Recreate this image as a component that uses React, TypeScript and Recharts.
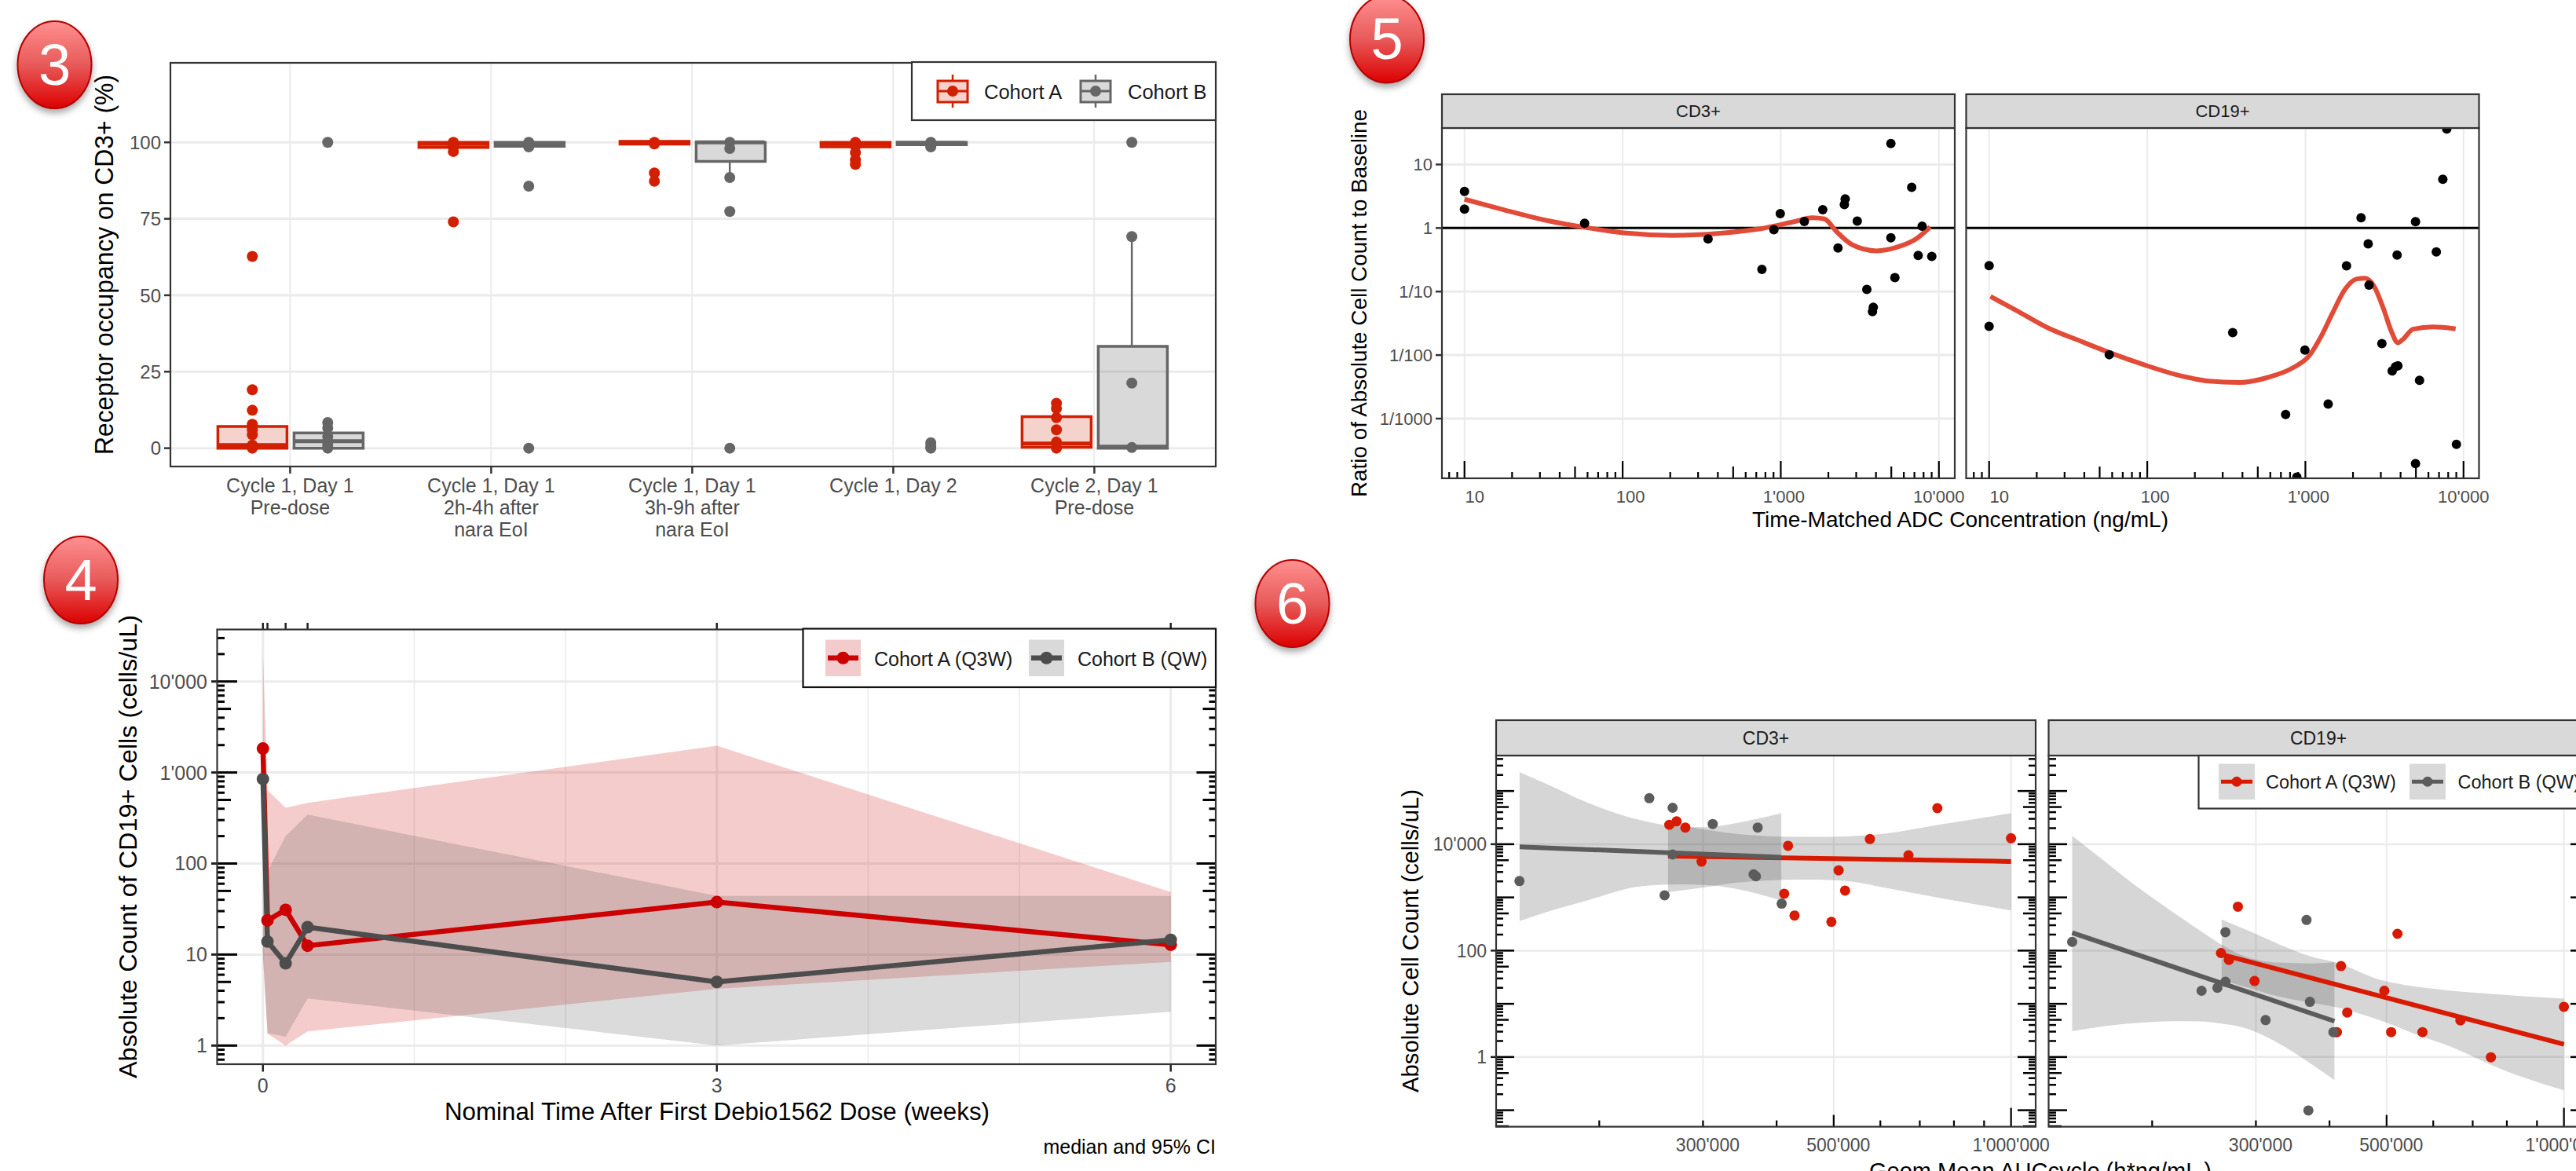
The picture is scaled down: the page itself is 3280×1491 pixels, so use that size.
import React from "react";
import { ComposedChart, XAxis, YAxis, Bar, Scatter, Line, Area, CartesianGrid, ReferenceLine } from "recharts";

const FONT = "'Liberation Sans', Arial, sans-serif";
const RED3 = "#d21f00", GRAY3 = "#666666", RED4 = "#cc0000", GRAY4 = "#4d4d4d", RED6 = "#d81a00", GRAY6 = "#5c5c5c", LOESS = "#e14b37";
const GRID = "#ebebeb", TXT = "#4d4d4d", FRAME = "#333333";

// ---------- Panel 3 data ----------
const visits = ["Cycle 1, Day 1\nPre-dose", "Cycle 1, Day 1\n2h-4h after\nnara EoI", "Cycle 1, Day 1\n3h-9h after\nnara EoI", "Cycle 1, Day 2", "Cycle 2, Day 1\nPre-dose"];
const boxAq1 = [0, 98.3, 99.4, 98.5, 0.3];
const boxAq3 = [7.1, 100, 100.3, 100, 10.3];
const boxAmed = [1, 99.5, 100, 99.5, 1.5];
const boxBq1 = [0, 98.7, 93.8, 99.2, 0];
const boxBq3 = [5, 100, 100, 100, 33.3];
const boxBmed = [2.3, 99.5, 100, 99.8, 0.5];
const whiskerB = [[3, 93.8, 88.5], [5, 33.3, 69.2]];
const occA = [
  [62.7, 19.1, 12.4, 7.8, 6, 4.4, 1, 0],
  [100, 99, 98.5, 97, 74],
  [100, 99.5, 90, 87.3],
  [100, 99, 98.8, 96.6, 94.3, 92.8],
  [14.7, 13, 10, 6, 2, 0],
];
const occB = [
  [100, 8.4, 6.6, 3.8, 2.3, 1, 0],
  [100, 99.5, 98.5, 85.7, 0],
  [100, 98, 88.5, 77.4, 0],
  [100, 99, 98.5, 1.8, 0.7, 0],
  [100, 69.2, 21.3, 0.2],
];
const occTicks = [0, 25, 50, 75, 100];
const visitPos = [1, 2, 3, 4, 5];
const DODGE = 0.1875, HALF = 0.172;
const rows3 = visits.map((name, i) => ({ name, a: [boxAq1[i], boxAq3[i]], b: [boxBq1[i], boxBq3[i]] }));
const pts3 = (vals: number[][], off: number) => vals.flatMap((vs, i) => vs.map((y) => ({ x: i + 1 + off, y })));

// ---------- Panel 4 data ----------
const weeks = [0, 0.03, 0.15, 0.295, 3, 6];
const medianA = [1834, 23.7, 31, 12.5, 37.7, 12.8];
const medianB = [848, 13.9, 8, 20, 5, 14.5];
const lowA = [10, 1.35, 1, 1.43, 4.2, 8.3];
const highA = [21100, 640, 410, 465, 1970, 48.7];
const lowB = [10, 1.37, 1.25, 3.3, 1, 2.35];
const highB = [1000, 82, 200, 344, 44, 44];
const rows4A = weeks.map((x, i) => ({ x, y: medianA[i], band: [lowA[i], highA[i]] }));
const rows4B = weeks.map((x, i) => ({ x, y: medianB[i], band: [lowB[i], highB[i]] }));

// ---------- Panel 5 data ----------
const cd3X = [10, 10, 57.5, 347, 760, 905, 993, 1409, 1843, 2301, 2525, 2555, 3046, 3501, 3802, 3846, 4970, 4970, 5269, 6730, 7396, 7834, 9016];
const cd3Y = [3.76, 1.99, 1.19, 0.674, 0.223, 0.938, 1.68, 1.27, 1.94, 0.484, 2.34, 2.87, 1.29, 0.108, 0.0484, 0.0564, 0.7, 21.4, 0.166, 4.37, 0.371, 1.07, 0.357];
const cd19X = [10, 10, 57.5, 347, 750, 883, 993, 1393, 1820, 2249, 2495, 2525, 3046, 3540, 3715, 3802, 3846, 4970, 4970, 5269, 6730, 7396, 7834, 9016];
const cd19Y = [0.256, 0.0284, 0.01014, 0.0226, 0.00116, 0.00012, 0.01195, 0.00169, 0.253, 1.45, 0.564, 0.126, 0.0152, 0.00564, 0.00657, 0.376, 0.0068, 1.26, 0.000196, 0.004, 0.421, 5.86, 36.1, 0.000395];
const smoothCd3X = [10, 17.7, 31.8, 56.9, 102, 206, 414, 742, 1183, 1585, 1887, 2249, 2838, 4027, 5395, 7228, 8810];
const smoothCd3Y = [2.84, 1.94, 1.34, 1.03, 0.837, 0.765, 0.826, 0.975, 1.24, 1.45, 1.39, 0.881, 0.543, 0.437, 0.497, 0.683, 1.04];
const smoothCd19X = [10.2, 14.9, 23.7, 37.8, 60.4, 96.2, 153, 245, 381, 587, 834, 1052, 1253, 1493, 1778, 2118, 2382, 2710, 3119, 3502, 3846, 4123, 4797, 6425, 8913];
const smoothCd19Y = [0.0837, 0.0503, 0.0266, 0.0166, 0.0105, 0.007, 0.00491, 0.0039, 0.00371, 0.00449, 0.00632, 0.00962, 0.0194, 0.0472, 0.108, 0.158, 0.162, 0.1225, 0.0536, 0.0234, 0.0156, 0.0175, 0.0256, 0.0277, 0.0259];
const ratioTicks = [10, 1, 0.1, 0.01, 0.001];
const ratioLabels = ["10", "1", "1/10", "1/100", "1/1000"];
const adcGrid = [10, 100, 1000, 10000];

// ---------- Panel 6 data ----------
const cd3RedX = [263000, 270600, 280000, 298300, 412000, 418300, 429000, 495500, 509700, 522700, 576000, 669700, 749700, 1000000];
const cd3RedY = [23170, 26900, 20550, 4700, 1172, 9333, 457, 347, 3226, 1345, 12500, 6190, 47600, 12930];
const cd3GrayX = [146400, 243200, 258200, 266400, 266400, 311600, 371500, 365600, 369000, 408000];
const cd3GrayY = [2030, 73100, 1096, 48400, 6400, 23990, 20550, 2716, 2494, 763];
const cd3FitRedX = [261700, 1000000], cd3FitRedY = [6000, 4730];
const cd3FitGrayX = [146500, 407400], cd3FitGrayY = [8930, 5670];
const cd3BandBX = [146500, 164800, 190400, 236700, 273700, 302900, 340300, 407400];
const cd3BandBHi = [226000, 128000, 61400, 27800, 21400, 20900, 24800, 38100];
const cd3BandBLo = [360, 555, 873, 1630, 1762, 1722, 1454, 873];
const cd3BandAX = [261700, 294300, 340300, 393400, 454800, 525900, 608100, 755900, 1000000];
const cd3BandAHi = [24800, 19800, 15700, 14050, 13740, 14050, 15700, 23400, 38100];
const cd3BandALo = [1256, 1486, 1888, 2113, 2163, 2042, 1538, 977, 567];

const cd19RedX = [261700, 270000, 279600, 298400, 410200, 411700, 418400, 428700, 495600, 509000, 521700, 575300, 667300, 751700, 1000000];
const cd19RedY = [90, 67, 671, 26.8, 2.94, 2.94, 51.2, 6.87, 17.6, 2.94, 207, 2.94, 4.89, 0.99, 8.79];
const cd19GrayX = [146300, 242600, 258100, 266300, 266300, 311600, 365600, 370500, 368300, 406200];
const cd19GrayY = [146, 17.6, 20, 25.9, 222, 4.94, 377, 10.9, 0.099, 2.94];
const cd19FitRedX = [261700, 1000000], cd19FitRedY = [85, 1.74];
const cd19FitGrayX = [146300, 407800], cd19FitGrayY = [217, 4.71];
const cd19BandBX = [146300, 165200, 189100, 216500, 241300, 261700, 283800, 324800, 372000, 407800];
const cd19BandBHi = [14390, 5000, 1545, 537, 236, 131, 81.9, 59.7, 57.5, 61];
const cd19BandBLo = [3.05, 3.77, 4.35, 4.71, 4.66, 4.25, 3.64, 1.91, 0.745, 0.368];
const cd19BandAX = [262400, 291500, 324800, 372000, 407800, 487500, 558300, 639000, 783000, 1000000];
const cd19BandAHi = [386, 236, 139, 77.3, 61, 28.4, 21.2, 17.8, 14.9, 12.5];
const cd19BandALo = [28.4, 20, 14.1, 10.5, 8.79, 4.89, 2.72, 1.6, 0.589, 0.236];

const aucLabels: Record<number, string> = { 300000: "300'000", 500000: "500'000", 1000000: "1'000'000" };
const adcLabels: Record<number, string> = { 10: "10", 100: "100", 1000: "1'000", 10000: "10'000" };
const countLabels: Record<number, string> = { 1: "1", 10: "10", 100: "100", 1000: "1'000", 10000: "10'000" };
const countLabels6: Record<number, string> = { 1: "1", 100: "100", 10000: "10'000" };
const countGrid4 = [1, 10, 100, 1000, 10000];
const countGrid6 = [1, 100, 10000];
const aucGrid = [300000, 500000, 1000000];
const MULT = [1, 2, 3, 4, 5, 6, 7, 8, 9];

const logTicks = (lo: number, hi: number) => {
  const out: number[] = [];
  for (let e = Math.floor(Math.log10(lo)); e <= Math.ceil(Math.log10(hi)); e++) {
    for (const m of MULT) {
      const v = Number((m * Math.pow(10, e)).toPrecision(3));
      if (v >= lo && v <= hi) out.push(v);
    }
  }
  return out;
};
const mant = (v: number) => Math.round(v / Math.pow(10, Math.floor(Math.log10(v) + 1e-9)));
const zip = (xs: number[], ys: number[]) => xs.map((x, i) => ({ x, y: ys[i] }));
const zipBand = (xs: number[], lo: number[], hi: number[]) => xs.map((x, i) => ({ x, band: [lo[i], hi[i]] }));

// ---------- layout ----------
const L = 130, T = 20, R = 70, B = 120;
const frame = (x: number, y: number, w: number, h: number) => ({
  style: { position: "absolute" as const, left: x - L, top: y - T },
  width: w + L + R,
  height: h + T + B,
});
const P3 = { x: 217, y: 80, w: 1331, h: 514 };
const P4 = { x: 276.5, y: 801.5, w: 1271.5, h: 553.5 };
const P5A = { x: 1836, y: 163, w: 653, h: 446 };
const P5B = { x: 2503.5, y: 163, w: 653, h: 446 };
const P6A = { x: 1905, y: 962, w: 687, h: 472.6 };
const P6B = { x: 2608.5, y: 962, w: 687, h: 472.6 };
const MARGIN = { top: T, right: R, bottom: 0, left: 0 };

const dot = (fill: string, r: number) => (p: any) => <circle cx={p.cx} cy={p.cy} r={r} fill={fill} />;

// ---------- tick renderers ----------
const yLogTick = (w: number, labels: Record<number, string>, lens: number[], sw: number, fs: number, out: number) => (p: any) => {
  const v = p.payload.value;
  const m = mant(v);
  const len = m === 1 ? lens[0] : m === 5 ? lens[1] : lens[2];
  return (
    <g>
      <line x1={p.x} x2={p.x + len} y1={p.y} y2={p.y} stroke="#000" strokeWidth={sw} />
      <line x1={p.x + w - len} x2={p.x + w} y1={p.y} y2={p.y} stroke="#000" strokeWidth={sw} />
      {labels[v] !== undefined && out > 0 && <line x1={p.x - out} x2={p.x} y1={p.y} y2={p.y} stroke="#222" strokeWidth={sw} />}
      {labels[v] !== undefined && out > 0 && (
        <text x={p.x - out - 5} y={p.y + fs * 0.36} textAnchor="end" fontSize={fs} fill={TXT}>{labels[v]}</text>
      )}
    </g>
  );
};
const xLogTick = (labels: Record<number, string>, lens: number[], fs: number, labelDy: number, offset: (v: number) => number) => (p: any) => {
  const v = p.payload.value;
  const m = mant(v);
  const len = m === 1 ? lens[0] : m === 5 ? lens[1] : lens[2];
  return (
    <g>
      <line x1={p.x} x2={p.x} y1={p.y - len} y2={p.y} stroke="#000" strokeWidth={2.2} />
      {labels[v] !== undefined && (
        <text x={p.x + offset(v)} y={p.y + labelDy} textAnchor="middle" fontSize={fs} fill={TXT}>{labels[v]}</text>
      )}
    </g>
  );
};
const linearYTick = (labels: (v: number) => string, fs: number) => (p: any) => {
  const v = p.payload.value;
  return (
    <g>
      <line x1={p.x - 8} x2={p.x} y1={p.y} y2={p.y} stroke={FRAME} strokeWidth={2.5} />
      <text x={p.x - 12} y={p.y + fs * 0.36} textAnchor="end" fontSize={fs} fill={TXT}>{labels(v)}</text>
    </g>
  );
};
const visitTick = (p: any) => {
  const lines = String(p.payload.value).split("\n");
  return (
    <g>
      <line x1={p.x} x2={p.x} y1={p.y} y2={p.y + 9} stroke={FRAME} strokeWidth={2.5} />
      {lines.map((s, i) => (
        <text key={i} x={p.x} y={p.y + 33 + i * 28} textAnchor="middle" fontSize={25} fill={TXT}>{s}</text>
      ))}
    </g>
  );
};
const weekTick = (h: number) => (p: any) => {
  const v = p.payload.value;
  const major = v === 0 || v === 3 || v === 6;
  return (
    <g>
      <line x1={p.x} x2={p.x} y1={p.y - h - 9} y2={p.y - h} stroke="#222" strokeWidth={2.5} />
      {major && <line x1={p.x} x2={p.x} y1={p.y} y2={p.y + 9} stroke="#222" strokeWidth={2.5} />}
      {major && <text x={p.x} y={p.y + 35} textAnchor="middle" fontSize={25} fill={TXT}>{String(v)}</text>}
    </g>
  );
};

// ---------- panels ----------
function Panel3() {
  const g = P3;
  const f = frame(g.x, g.y, g.w, g.h);
  return (
    <ComposedChart {...f} margin={MARGIN} data={rows3} barGap={9}>
      <CartesianGrid xAxisId="num" yAxisId="y" stroke={GRID} strokeWidth={3} vertical={false} horizontalValues={occTicks} />
      <CartesianGrid xAxisId="num" yAxisId="y" stroke={GRID} strokeWidth={2} horizontal={false} verticalValues={visitPos} />
      <XAxis xAxisId="num" type="number" dataKey="x" domain={[0.405, 5.605]} allowDataOverflow hide />
      <XAxis xAxisId="cat" dataKey="name" height={B} interval={0} padding={{ left: 24.4, right: 26.6 }} tickSize={0} tickMargin={0} axisLine={false} tickLine={false} tick={visitTick} />
      <YAxis yAxisId="y" width={L} dataKey="y" type="number" domain={[-6, 126]} ticks={occTicks} interval={0} allowDataOverflow tickSize={0} tickMargin={0} axisLine={false} tickLine={false} tick={linearYTick((v) => String(v), 24)} />
      <Bar xAxisId="cat" yAxisId="y" dataKey="a" barSize={88} fill={RED3} fillOpacity={0.2} stroke={RED3} strokeWidth={3.5} isAnimationActive={false} />
      <Bar xAxisId="cat" yAxisId="y" dataKey="b" barSize={88} fill={GRAY3} fillOpacity={0.25} stroke={GRAY3} strokeWidth={3.5} isAnimationActive={false} />
      {boxAmed.map((m, i) => (
        <ReferenceLine key={"ma" + i} xAxisId="num" yAxisId="y" ifOverflow="visible" stroke={RED3} strokeWidth={5} segment={[{ x: i + 1 - DODGE - HALF, y: m }, { x: i + 1 - DODGE + HALF, y: m }]} />
      ))}
      {boxBmed.map((m, i) => (
        <ReferenceLine key={"mb" + i} xAxisId="num" yAxisId="y" ifOverflow="visible" stroke={GRAY3} strokeWidth={5} segment={[{ x: i + 1 + DODGE - HALF, y: m }, { x: i + 1 + DODGE + HALF, y: m }]} />
      ))}
      {whiskerB.map((w, i) => (
        <ReferenceLine key={"wb" + i} xAxisId="num" yAxisId="y" ifOverflow="visible" stroke={GRAY3} strokeWidth={2.5} segment={[{ x: w[0] + DODGE, y: w[1] }, { x: w[0] + DODGE, y: w[2] }]} />
      ))}
      <Scatter xAxisId="num" yAxisId="y" data={pts3(occA, -DODGE)} shape={dot(RED3, 7)} isAnimationActive={false} />
      <Scatter xAxisId="num" yAxisId="y" data={pts3(occB, DODGE)} shape={dot(GRAY3, 7)} isAnimationActive={false} />
    </ComposedChart>
  );
}

function Panel4() {
  const g = P4;
  const f = frame(g.x, g.y, g.w, g.h);
  return (
    <ComposedChart {...f} margin={MARGIN}>
      <CartesianGrid stroke={GRID} strokeWidth={3} vertical={false} horizontalValues={countGrid4} />
      <CartesianGrid stroke={GRID} strokeWidth={3} horizontal={false} verticalValues={[0, 3, 6]} />
      <CartesianGrid stroke={GRID} strokeWidth={1.5} horizontal={false} verticalValues={[1, 2, 4, 5]} />
      <XAxis type="number" dataKey="x" domain={[-0.3, 6.3]} ticks={weeks} interval={0} allowDataOverflow height={B} tickSize={0} tickMargin={0} axisLine={false} tickLine={false} tick={weekTick(g.h)} />
      <YAxis type="number" dataKey="y" scale="log" domain={[0.618, 36900]} ticks={logTicks(0.618, 36900)} interval={0} allowDataOverflow width={L} tickSize={0} tickMargin={0} axisLine={false} tickLine={false} tick={yLogTick(g.w, countLabels, [25, 17, 9], 3, 25, 8)} />
      <Area data={rows4A} dataKey="band" type="linear" fill={RED4} fillOpacity={0.2} stroke="none" dot={false} activeDot={false} isAnimationActive={false} />
      <Area data={rows4B} dataKey="band" type="linear" fill={GRAY4} fillOpacity={0.2} stroke="none" dot={false} activeDot={false} isAnimationActive={false} />
      <Line data={rows4A} dataKey="y" type="linear" stroke={RED4} strokeWidth={6.5} dot={{ r: 8, fill: RED4, stroke: RED4, strokeWidth: 0 }} activeDot={false} isAnimationActive={false} />
      <Line data={rows4B} dataKey="y" type="linear" stroke={GRAY4} strokeWidth={6.5} dot={{ r: 8, fill: GRAY4, stroke: GRAY4, strokeWidth: 0 }} activeDot={false} isAnimationActive={false} />
    </ComposedChart>
  );
}

const adcOffset = (v: number) => (v === 10 ? 13 : v === 100 ? 10 : v === 1000 ? 4 : 0);
function Panel5({ g, xs, ys, sx, sy, labels }: any) {
  const f = frame(g.x, g.y, g.w, g.h);
  return (
    <ComposedChart {...f} margin={MARGIN}>
      <CartesianGrid stroke={GRID} strokeWidth={3} vertical={false} horizontalValues={ratioTicks} />
      <CartesianGrid stroke={GRID} strokeWidth={2} horizontal={false} verticalValues={adcGrid} />
      <XAxis type="number" dataKey="x" scale="log" domain={[7.2, 12600]} ticks={logTicks(7.2, 10000)} interval={0} allowDataOverflow height={B} tickSize={0} tickMargin={0} axisLine={false} tickLine={false} tick={xLogTick(adcLabels, [22, 15, 8], 22, 31, adcOffset)} />
      <YAxis type="number" dataKey="y" scale="log" domain={[0.000115, 37.5]} ticks={ratioTicks} interval={0} allowDataOverflow width={L} tickSize={0} tickMargin={0} axisLine={false} tickLine={false}
        tick={labels ? linearYTick((v) => ratioLabels[ratioTicks.indexOf(v)], 22) : false} />
      <ReferenceLine y={1} stroke="#000" strokeWidth={3} ifOverflow="hidden" />
      <Scatter data={zip(xs, ys)} shape={dot("#000", 6)} isAnimationActive={false} />
      <Line data={zip(sx, sy)} dataKey="y" type="monotone" stroke={LOESS} strokeWidth={6} dot={false} activeDot={false} isAnimationActive={false} />
    </ComposedChart>
  );
}

const aucOffset = (v: number) => (v === 1000000 ? 0 : 6);
function Panel6({ g, showLabels, red, gray, fitRed, fitGray, bandA, bandB }: any) {
  const f = frame(g.x, g.y, g.w, g.h);
  return (
    <ComposedChart {...f} margin={MARGIN}>
      <CartesianGrid stroke={GRID} strokeWidth={2.5} vertical={false} horizontalValues={countGrid6} />
      <CartesianGrid stroke={GRID} strokeWidth={2} horizontal={false} verticalValues={aucGrid} />
      <XAxis type="number" dataKey="x" scale="log" domain={[133650, 1101000]} ticks={logTicks(200000, 1000000)} interval={0} allowDataOverflow height={B} tickSize={0} tickMargin={0} axisLine={false} tickLine={false} tick={xLogTick(aucLabels, [24, 15, 8], 23, 31, aucOffset)} />
      <YAxis type="number" dataKey="y" scale="log" domain={[0.049, 464000]} ticks={logTicks(0.05, 464000)} interval={0} allowDataOverflow width={L} tickSize={0} tickMargin={0} axisLine={false} tickLine={false}
        tick={yLogTick(g.w, countLabels6, [23, 16, 9], 2.5, 23, showLabels ? 7 : 0)} />
      <Area data={bandB} dataKey="band" type="monotone" fill="#333333" fillOpacity={0.2} stroke="none" dot={false} activeDot={false} isAnimationActive={false} />
      <Area data={bandA} dataKey="band" type="monotone" fill="#333333" fillOpacity={0.2} stroke="none" dot={false} activeDot={false} isAnimationActive={false} />
      <Scatter data={red} shape={dot(RED6, 6.5)} isAnimationActive={false} />
      <Scatter data={gray} shape={dot(GRAY6, 6.5)} isAnimationActive={false} />
      <Line data={fitRed} dataKey="y" type="linear" stroke={RED6} strokeWidth={6} dot={false} activeDot={false} isAnimationActive={false} />
      <Line data={fitGray} dataKey="y" type="linear" stroke={GRAY6} strokeWidth={6} dot={false} activeDot={false} isAnimationActive={false} />
    </ComposedChart>
  );
}

// ---------- overlay ----------
function Badge({ cx, cy, n }: { cx: number; cy: number; n: string }) {
  return (
    <g style={{ filter: "drop-shadow(0px 5px 4px rgba(0,0,0,0.35))" }}>
      <ellipse cx={cx} cy={cy} rx={47} ry={55.5} fill="url(#badge)" stroke="#b50000" strokeWidth={2} />
      <text x={cx} y={cy + 25} textAnchor="middle" fontSize={74} fill="#fff">{n}</text>
    </g>
  );
}
const VTitle = ({ x, y, len, fs, s }: any) => (
  <text transform={`translate(${x},${y}) rotate(-90)`} textAnchor="middle" fontSize={fs} fill="#000" textLength={len} lengthAdjust="spacingAndGlyphs">{s}</text>
);
const HTitle = ({ x, y, len, fs, s }: any) => (
  <text x={x} y={y} textAnchor="middle" fontSize={fs} fill="#000" textLength={len} lengthAdjust="spacingAndGlyphs">{s}</text>
);
const Border = ({ g }: any) => <rect x={g.x} y={g.y} width={g.w} height={g.h} fill="none" stroke={FRAME} strokeWidth={2.2} />;
const Strip = ({ x, y, w, h, s, fs }: any) => (
  <g>
    <rect x={x} y={y} width={w} height={h} fill="#d9d9d9" stroke={FRAME} strokeWidth={2.2} />
    <text x={x + w / 2} y={y + h / 2 + fs * 0.36} textAnchor="middle" fontSize={fs} fill="#1a1a1a">{s}</text>
  </g>
);
function BoxKey({ cx, color, fillOp }: any) {
  return (
    <g>
      <line x1={cx} x2={cx} y1={95} y2={137} stroke={color} strokeWidth={2.5} />
      <rect x={cx - 19} y={103} width={38} height={27} fill="#fff" />
      <rect x={cx - 19} y={103} width={38} height={27} fill={color} fillOpacity={fillOp} stroke={color} strokeWidth={3} />
      <line x1={cx - 19} x2={cx + 19} y1={116} y2={116} stroke={color} strokeWidth={3} />
      <circle cx={cx} cy={116} r={7} fill={color} />
    </g>
  );
}
function LineKey({ x, y, w, h, color, band, r, sw }: any) {
  return (
    <g>
      <rect x={x} y={y} width={w} height={h} fill={band} />
      <line x1={x + 3} x2={x + w - 3} y1={y + h / 2} y2={y + h / 2} stroke={color} strokeWidth={sw} />
      <circle cx={x + w / 2} cy={y + h / 2} r={r} fill={color} />
    </g>
  );
}

function Overlay() {
  return (
    <svg width={3280} height={1491} style={{ position: "absolute", left: 0, top: 0 }}>
      <defs>
        <linearGradient id="badge" x1="0" y1="0" x2="0" y2="1">
          <stop offset="0" stopColor="#ff9090" />
          <stop offset="0.5" stopColor="#e85a5a" />
          <stop offset="1" stopColor="#dc0000" />
        </linearGradient>
      </defs>
      <Border g={P3} />
      <Border g={P4} />
      <Border g={P5A} />
      <Border g={P5B} />
      <Border g={P6A} />
      <Border g={P6B} />
      <Strip x={P5A.x} y={120} w={P5A.w} h={43} s="CD3+" fs={22} />
      <Strip x={P5B.x} y={120} w={P5B.w} h={43} s="CD19+" fs={22} />
      <Strip x={P6A.x} y={917} w={P6A.w} h={45} s="CD3+" fs={23} />
      <Strip x={P6B.x} y={917} w={P6B.w} h={45} s="CD19+" fs={23} />

      <VTitle x={144} y={337} len={484} fs={33} s="Receptor occupancy on CD3+ (%)" />
      <VTitle x={173.5} y={1078} len={590} fs={31} s="Absolute Count of CD19+ Cells (cells/uL)" />
      <VTitle x={1740} y={386} len={494} fs={28} s="Ratio of Absolute Cell Count to Baseline" />
      <VTitle x={1806} y={1198} len={386} fs={29} s="Absolute Cell Count (cells/uL)" />
      <HTitle x={913} y={1426} len={694} fs={31} s="Nominal Time After First Debio1562 Dose (weeks)" />
      <HTitle x={2496} y={671} len={530} fs={28} s="Time-Matched ADC Concentration (ng/mL)" />
      <HTitle x={2598} y={1501} len={436} fs={29} s="Geom Mean AUCcycle (h*ng/mL )" />
      <text x={1548} y={1469} textAnchor="end" fontSize={25} fill="#000">median and 95% CI</text>

      {/* legend 3 */}
      <rect x={1161} y={79} width={387} height={74} fill="#fff" stroke={FRAME} strokeWidth={2.2} />
      <BoxKey cx={1213} color={RED3} fillOp={0.2} />
      <text x={1253} y={126} fontSize={25.5} fill="#1a1a1a">Cohort A</text>
      <BoxKey cx={1395} color={GRAY3} fillOp={0.25} />
      <text x={1436} y={126} fontSize={25.5} fill="#1a1a1a">Cohort B</text>

      {/* legend 4 */}
      <rect x={1022.5} y={800.5} width={525.5} height={74.5} fill="#fff" stroke="#111" strokeWidth={2.2} />
      <LineKey x={1051} y={814.5} w={45} h={46.5} color={RED4} band="#f3cbcd" r={8} sw={6.5} />
      <text x={1113} y={848} fontSize={25} fill="#1a1a1a">Cohort A (Q3W)</text>
      <LineKey x={1310} y={814.5} w={45} h={46.5} color={GRAY4} band="#d9d9d9" r={8} sw={6.5} />
      <text x={1372} y={848} fontSize={25} fill="#1a1a1a">Cohort B (QW)</text>

      {/* legend 6 */}
      <rect x={2799.5} y={962} width={500} height={67.5} fill="#fff" stroke={FRAME} strokeWidth={2.2} />
      <LineKey x={2825} y={972.5} w={46} h={45.5} color={RED6} band="#d9d9d9" r={6.5} sw={5} />
      <text x={2885} y={1004} fontSize={23.5} fill="#1a1a1a">Cohort A (Q3W)</text>
      <LineKey x={3068} y={972.5} w={46} h={45.5} color={GRAY6} band="#d9d9d9" r={6.5} sw={5} />
      <text x={3129.5} y={1004} fontSize={23.5} fill="#1a1a1a">Cohort B (QW)</text>

      <Badge cx={69.5} cy={82.5} n="3" />
      <Badge cx={103} cy={738.5} n="4" />
      <Badge cx={1766} cy={50} n="5" />
      <Badge cx={1645.5} cy={768.5} n="6" />
    </svg>
  );
}

export default function App() {
  return (
    <div style={{ position: "absolute", left: 0, top: 0, width: 3280, height: 1491, overflow: "hidden", background: "#fff", fontFamily: FONT }}>
      <Panel3 />
      <Panel4 />
      <Panel5 g={P5A} xs={cd3X} ys={cd3Y} sx={smoothCd3X} sy={smoothCd3Y} labels />
      <Panel5 g={P5B} xs={cd19X} ys={cd19Y} sx={smoothCd19X} sy={smoothCd19Y} labels={false} />
      <Panel6 g={P6A} showLabels red={zip(cd3RedX, cd3RedY)} gray={zip(cd3GrayX, cd3GrayY)} fitRed={zip(cd3FitRedX, cd3FitRedY)} fitGray={zip(cd3FitGrayX, cd3FitGrayY)} bandA={zipBand(cd3BandAX, cd3BandALo, cd3BandAHi)} bandB={zipBand(cd3BandBX, cd3BandBLo, cd3BandBHi)} />
      <Panel6 g={P6B} showLabels={false} red={zip(cd19RedX, cd19RedY)} gray={zip(cd19GrayX, cd19GrayY)} fitRed={zip(cd19FitRedX, cd19FitRedY)} fitGray={zip(cd19FitGrayX, cd19FitGrayY)} bandA={zipBand(cd19BandAX, cd19BandALo, cd19BandAHi)} bandB={zipBand(cd19BandBX, cd19BandBLo, cd19BandBHi)} />
      <Overlay />
    </div>
  );
}
